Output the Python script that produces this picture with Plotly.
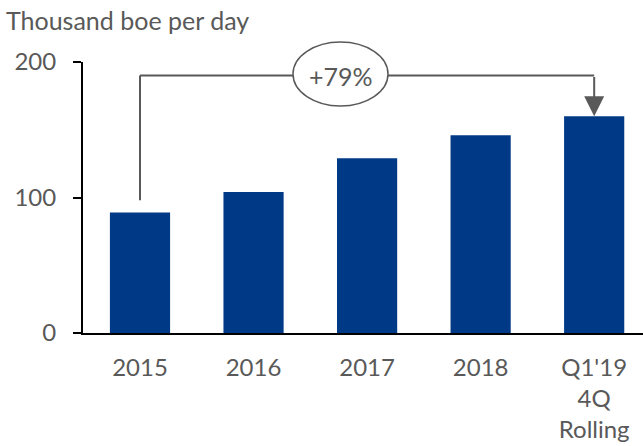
import plotly.graph_objects as go

categories = ["2015", "2016", "2017", "2018", "Q1'19<br>4Q<br>Rolling"]
values = [89, 104, 129, 146, 160]
y_ticks = [0, 100, 200]
growth_label = "+79%"

BAR = "#003a87"
GREY = "#595959"
FONT = "Lato"

fig = go.Figure(go.Bar(x=list(range(len(categories))), y=values, marker=dict(color=BAR, line=dict(width=0)),
                       width=0.53))

level = 190
start_y = values[0] + 9
fig.add_shape(type="line", xref="x", yref="y", x0=0, x1=0, y0=start_y, y1=level,
              line=dict(color=GREY, width=2))
fig.add_shape(type="line", xref="x", yref="y", x0=0, x1=len(values) - 1, y0=level, y1=level,
              line=dict(color=GREY, width=2))
fig.add_annotation(x=len(values) - 1, y=values[-1], xref="x", yref="y",
                   ax=len(values) - 1, ay=level, axref="x", ayref="y",
                   showarrow=True, arrowhead=2, arrowsize=2, arrowwidth=2, arrowcolor=GREY, text="")
fig.add_shape(type="circle", xref="paper", yref="paper",
              x0=(293 - 83) / 560, x1=(388 - 83) / 560,
              y0=(333 - 106) / 271, y1=(333 - 42) / 271,
              line=dict(color=GREY, width=1.5), fillcolor="white", layer="above")
fig.add_annotation(x=(340.5 - 83) / 560, y=(333 - 76) / 271, xref="paper", yref="paper",
                   xanchor="center", yanchor="middle",
                   text=growth_label, showarrow=False, font=dict(family=FONT, size=25, color=GREY))

fig.add_annotation(x=0, y=1, xref="paper", yref="paper", xanchor="left", yanchor="top",
                   xshift=-83 + 4, yshift=62 - 3, text="Thousand boe per day", showarrow=False,
                   font=dict(family=FONT, size=25, color=GREY))

fig.update_layout(
    width=643, height=446, margin=dict(l=83, r=0, t=62, b=113),
    plot_bgcolor="white", paper_bgcolor="white", showlegend=False,
    font=dict(family=FONT, color=GREY),
    xaxis=dict(range=[-0.502, 4.43], tickmode="array", tickvals=list(range(len(categories))),
               ticktext=categories, showline=True, linecolor="black", linewidth=2,
               ticks="", showgrid=False, zeroline=False, tickfont=dict(size=24, color=GREY),
               ticklabelstandoff=12),
    yaxis=dict(range=[0, 200], tickvals=y_ticks, showline=True, linecolor="black", linewidth=2,
               ticks="outside", ticklen=8, tickwidth=2, tickcolor="black", showgrid=False,
               zeroline=False, tickfont=dict(size=24, color=GREY), ticklabelstandoff=12),
)

fig.write_html("out.html")
